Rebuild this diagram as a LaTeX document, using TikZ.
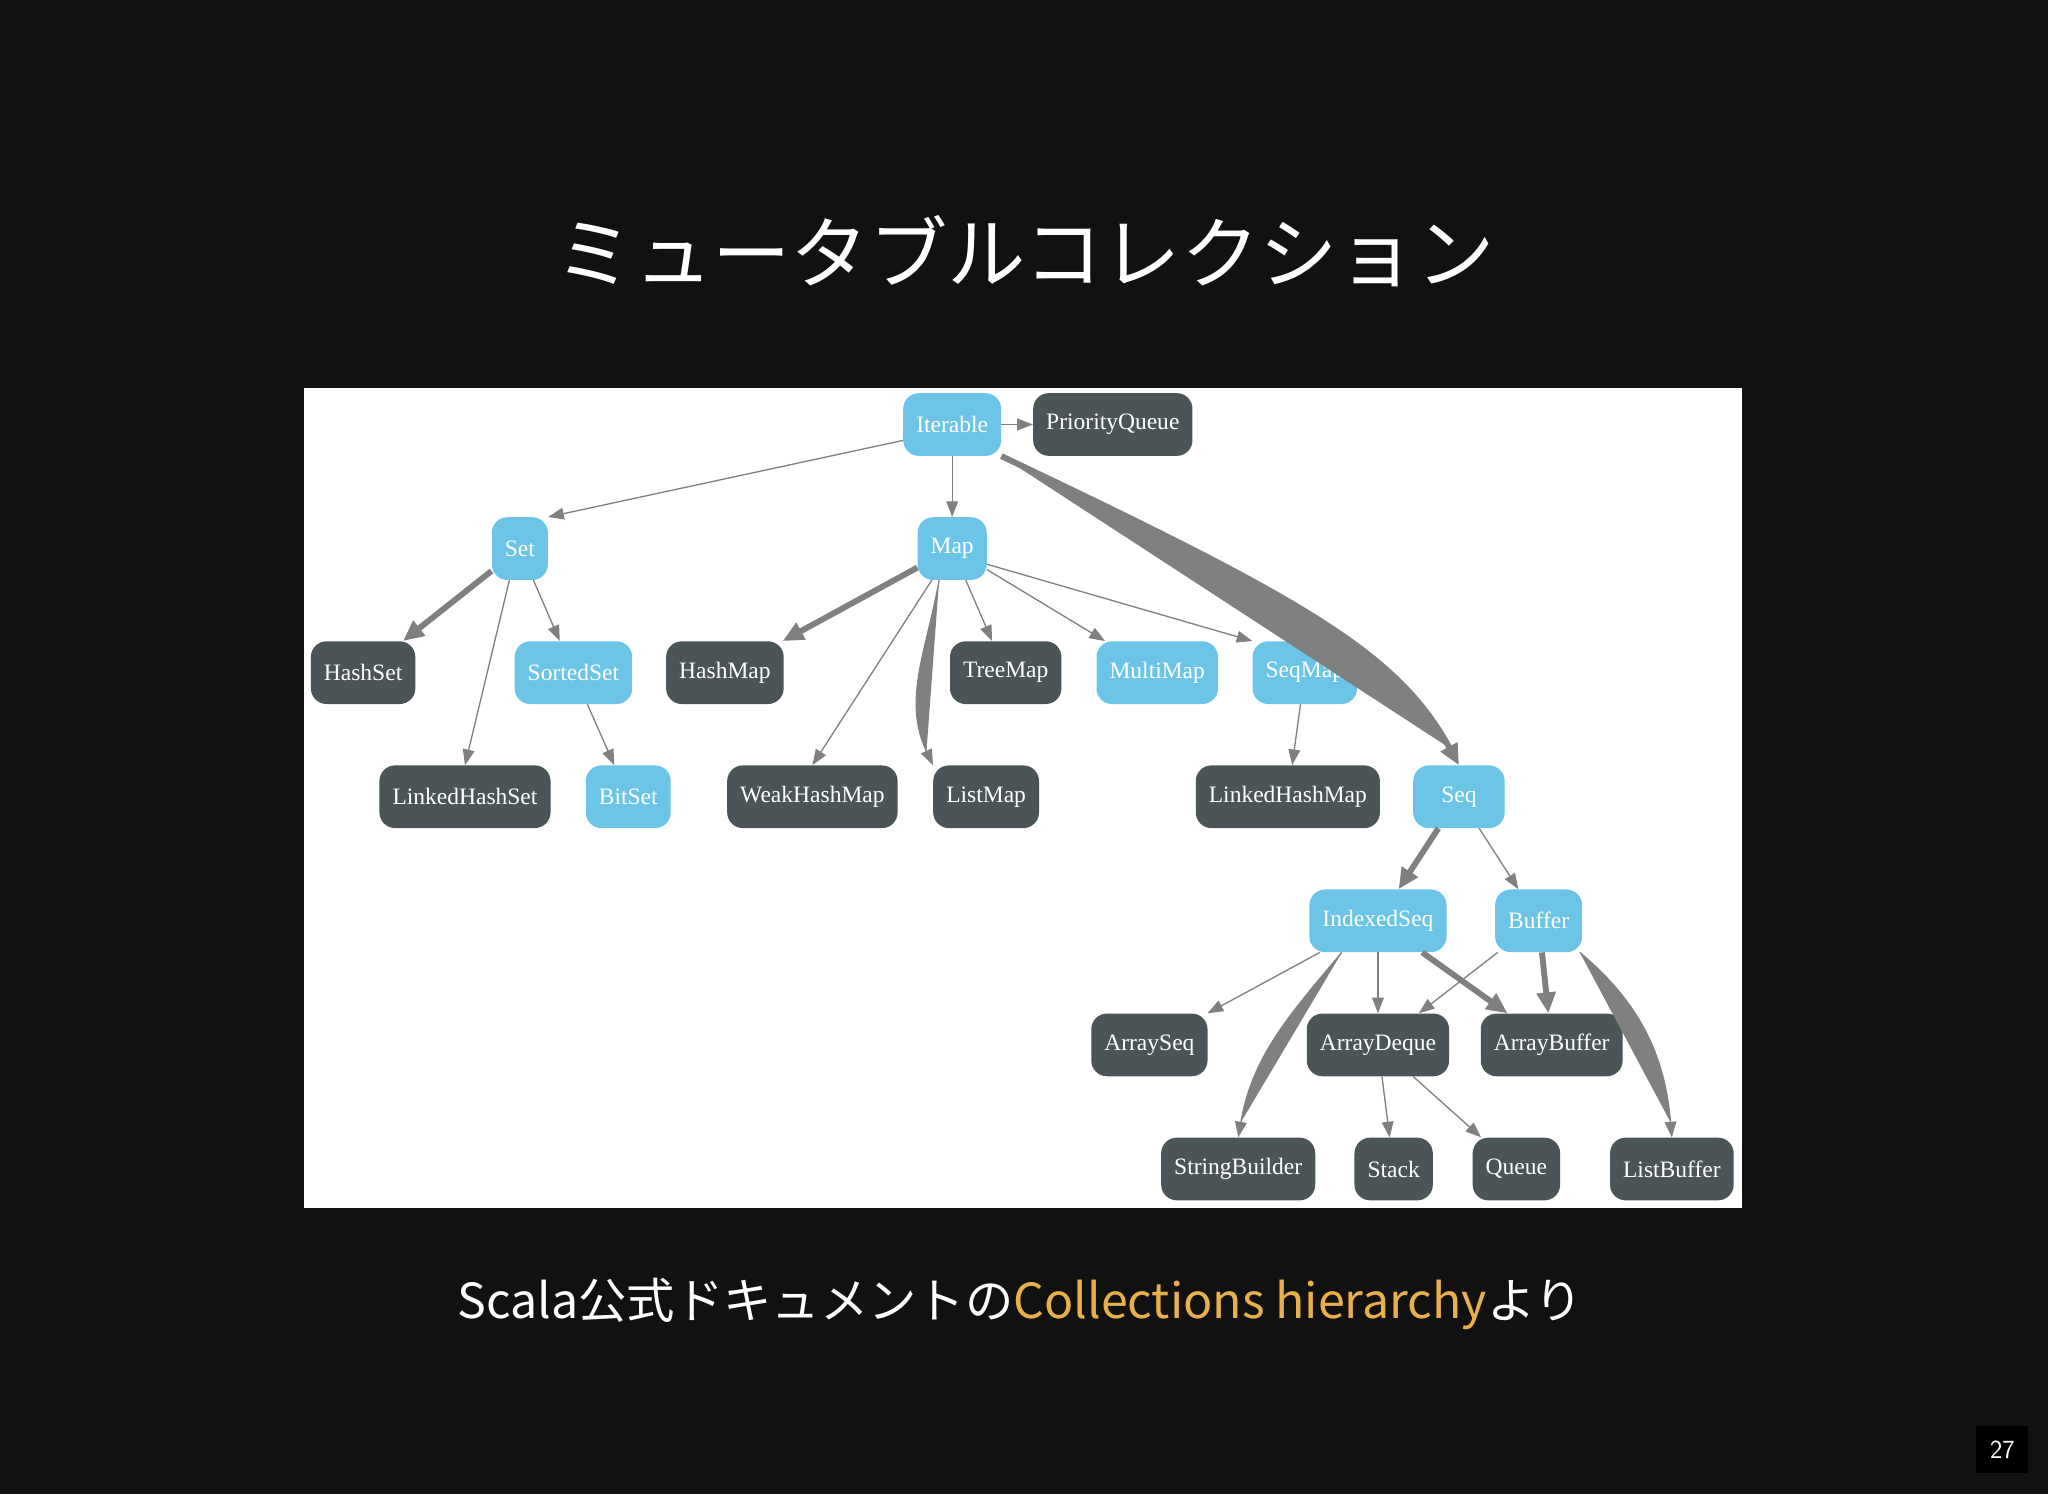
\documentclass[tikz,border=0pt]{standalone}
\usepackage{fontspec}
\setmainfont{Liberation Serif}
\newfontfamily\cjk{Noto Sans CJK JP}
\usetikzlibrary{arrows.meta}
\definecolor{bg}{HTML}{111111}
\definecolor{lb}{HTML}{6CC5E6}
\definecolor{dk}{HTML}{4B5457}
\definecolor{eg}{HTML}{808080}
\definecolor{org}{HTML}{E8B04B}
\begin{document}
\begin{tikzpicture}[x=1pt,y=-1pt,
  nd/.style={rounded corners=12pt,minimum height=48pt,inner xsep=10pt,text=white,font=\fontsize{18}{20}\selectfont},
  lnode/.style={nd,fill=lb},
  dnode/.style={nd,fill=dk},
  ed/.style={draw=eg,line width=1pt,-{Triangle[length=12pt,width=9pt]},fill=eg},
  ted/.style={draw=eg,line width=4.5pt,-{Triangle[length=16pt,width=14pt]},fill=eg}]
\fill[bg] (0,0) rectangle (1568,1144);
\useasboundingbox (0,0) rectangle (1568,1144);
\fill[white] (233,297) rectangle (1334,925);
\node[text=white,font=\cjk\fontsize{60}{66}\selectfont] (title) at (785,192) {ミュータブルコレクション};
\node[text=white,font=\cjk\fontsize{37}{40}\selectfont] (cap) at (781,998) {Scala公式ドキュメントの\textcolor{org}{Collections hierarchy}より};
\node[fill=black,text=white,font=\sffamily\fontsize{20}{22}\selectfont,minimum width=40pt,minimum height=36pt] (pg) at (1533,1110) {27};

\node[lnode] (Iterable) at (729,325) {Iterable};
\node[dnode] (PQ) at (852,325) {PriorityQueue};
\node[lnode] (Set) at (398,420) {Set};
\node[lnode] (Map) at (729,420) {Map};
\node[dnode] (HashSet) at (278,515) {HashSet};
\node[lnode] (SortedSet) at (439,515) {SortedSet};
\node[dnode] (HashMap) at (555,515) {HashMap};
\node[dnode] (TreeMap) at (770,515) {TreeMap};
\node[lnode] (MultiMap) at (886,515) {MultiMap};
\node[lnode] (SeqMap) at (999,515) {SeqMap};
\node[dnode] (LHS) at (356,610) {LinkedHashSet};
\node[lnode] (BitSet) at (481,610) {BitSet};
\node[dnode] (WHM) at (622,610) {WeakHashMap};
\node[dnode] (ListMap) at (755,610) {ListMap};
\node[dnode] (LHM) at (986,610) {LinkedHashMap};
\node[lnode,minimum width=70pt] (Seq) at (1117,610) {Seq};
\node[lnode] (IndexedSeq) at (1055,705) {IndexedSeq};
\node[lnode] (Buffer) at (1178,705) {Buffer};
\node[dnode] (ArraySeq) at (880,800) {ArraySeq};
\node[dnode] (ArrayDeque) at (1055,800) {ArrayDeque};
\node[dnode] (ArrayBuffer) at (1188,800) {ArrayBuffer};
\node[dnode] (SB) at (948,895) {StringBuilder};
\node[dnode] (Stack) at (1067,895) {Stack};
\node[dnode] (Queue) at (1161,895) {Queue};
\node[dnode] (ListBuffer) at (1280,895) {ListBuffer};

\draw[ed] (Iterable) -- (PQ);
\draw[ed] (Iterable.south west) ++(0,-12) coordinate (i1) (i1) -- (Set.north east);
\draw[ed] (Iterable) -- (Map);
\draw[ted] (Iterable.south east) .. controls (1000,460) and (1070,500) .. (Seq.north);
\draw[ted] (Set) -- (HashSet);
\draw[ed] (Set) -- (SortedSet);
\draw[ed] (Set.south) ++(-8,0) coordinate (s1) (s1) -- (LHS.north);
\draw[ed] (SortedSet) -- (BitSet);
\draw[ted] (Map) -- (HashMap);
\draw[ed] (Map) -- (WHM.north);
\draw[ed] (Map.south) ++(-10,0) coordinate (m1) (m1) to[out=-100,in=115] (ListMap.north west);
\draw[ed] (Map) -- (TreeMap);
\draw[ed] (Map) -- (MultiMap);
\draw[ed] (Map.east) ++(0,12) coordinate (m2) (m2) -- (SeqMap.north west);
\draw[ed] (SeqMap) -- (LHM);
\draw[ted] (Seq) -- (IndexedSeq);
\draw[ed] (Seq) -- (Buffer);
\draw[ed] (IndexedSeq) -- (ArraySeq);
\draw[ed] (IndexedSeq) -- (ArrayDeque);
\draw[ted] (IndexedSeq) -- (ArrayBuffer);
\draw[ed] (IndexedSeq.south west) ++(25,0) coordinate (q1) (q1) to[out=-130,in=80] (SB.north);
\draw[ed] (Buffer) -- (ArrayDeque);
\draw[ted] (Buffer) -- (ArrayBuffer);
\draw[ed] (Buffer.south east) ++(-2,0) coordinate (b1) (b1) to[out=-40,in=95] (ListBuffer.north);
\draw[ed] (ArrayDeque) -- (Stack);
\draw[ed] (ArrayDeque) -- (Queue);
\end{tikzpicture}
\end{document}
